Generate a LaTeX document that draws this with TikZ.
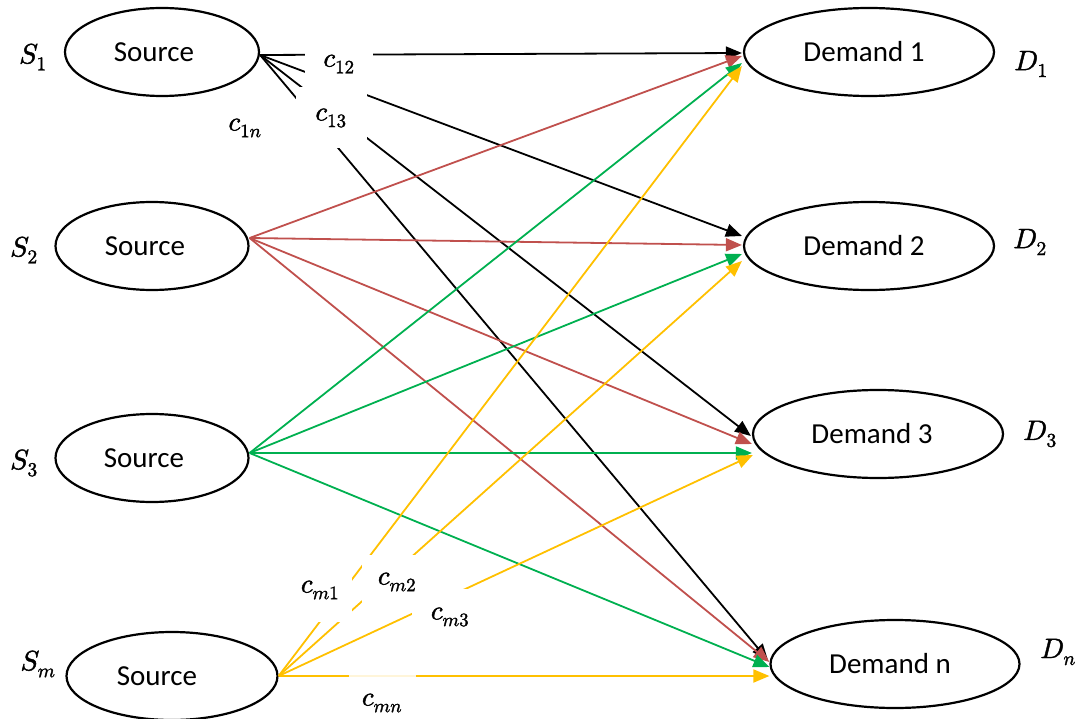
\documentclass[tikz,border=0pt]{standalone}
\usepackage{fontspec}
\usepackage{unicode-math}
\setmainfont{Carlito}
\setmathfont{Latin Modern Math}[FakeBold=1.6]
\usetikzlibrary{shapes.geometric,arrows.meta}
\definecolor{flowred}{RGB}{192,80,77}
\definecolor{flowgreen}{RGB}{0,176,80}
\definecolor{flowyellow}{RGB}{255,192,0}

\begin{document}
\begin{tikzpicture}[x=1pt,y=-1pt,
  place/.style={ellipse, draw, line width=2.2pt, inner sep=0pt,
    minimum height=88pt, font=\fontsize{29}{34}\selectfont},
  flow/.style={line width=1.8pt, -{Triangle[length=16pt,width=13pt]}},
  cost/.style={fill=white, inner sep=0pt, font=\fontsize{27}{31}\selectfont},
  tag/.style={inner sep=0pt, font=\fontsize{28}{32}\selectfont}]

\useasboundingbox (0,0) rectangle (1078,719);

% sources and demands
\node[place, minimum width=194pt] (s1) at (162,52)  {\hspace*{-16pt}Source};
\node[place, minimum width=193pt] (s2) at (152,246) {\hspace*{-14pt}Source};
\node[place, minimum width=193pt] (s3) at (152,458) {\hspace*{-16pt}Source};
\node[place, minimum width=211pt] (sm) at (172,676) {\hspace*{-30pt}Source};
\node[place, minimum width=250pt] (d1) at (869,52)  {\hspace*{-10pt}Demand 1};
\node[place, minimum width=250pt] (d2) at (869,246) {\hspace*{-10pt}Demand 2};
\node[place, minimum width=250pt] (d3) at (878,434) {\hspace*{-12pt}Demand 3};
\node[place, minimum width=249pt] (dn) at (895,664) {\hspace*{-10pt}Demand n};

% points where the flows leave each source
\coordinate (o1) at ([yshift=-3pt]s1.east);
\coordinate (o2) at ([yshift=8pt]s2.east);
\coordinate (o3) at ([yshift=5pt]s3.east);
\coordinate (om) at (sm.east);

% flows from source 1
\draw[flow, black] (o1) -- ([xshift=-1pt,yshift=-1pt]d1.west);
\draw[flow, black] (o1) -- ([xshift=-1pt,yshift=10pt]d2.west);
\draw[flow, black] (o1) -- ([xshift=-1pt,yshift=-2pt]d3.west);
\draw[flow, black] (o1) -- ([xshift=-1.5pt,yshift=4pt]dn.west);

% flows from source 2
\draw[flow, flowred] (o2) -- ([xshift=-1pt,yshift=-4pt]d1.west);
\draw[flow, flowred] (o2) -- ([xshift=-1pt,yshift=1pt]d2.west);
\draw[flow, flowred] (o2) -- ([yshift=-10pt]d3.west);
\draw[flow, flowred] (o2) -- ([yshift=2pt]dn.west);

% flows from source 3
\draw[flow, flowgreen] (o3) -- ([xshift=-1pt,yshift=-11pt]d1.west);
\draw[flow, flowgreen] (o3) -- ([xshift=-1pt,yshift=-8pt]d2.west);
\draw[flow, flowgreen] (o3) -- ([yshift=-19pt]d3.west);
\draw[flow, flowgreen] (o3) -- ([yshift=-3pt]dn.west);

% flows from source m
\draw[flow, flowyellow] (om) -- ([xshift=-1pt,yshift=-14pt]d1.west);
\draw[flow, flowyellow] (om) -- ([xshift=-1pt,yshift=-15pt]d2.west);
\draw[flow, flowyellow] (om) -- ([xshift=1pt,yshift=-21pt]d3.west);
\draw[flow, flowyellow] (om) -- ([yshift=-12pt]dn.west);

% cost labels on the flows
\node[cost, minimum width=68pt, minimum height=48pt] (c12) at (339,64)  {$c_{12}$};
\node[cost, minimum width=71pt, minimum height=61pt] (c13) at (331,118) {$c_{13}$};
\node[cost] (c1n) at (245,128) {$c_{1n}$};
\node[cost, minimum width=76pt, minimum height=56pt] (cm3) at (450,617) {$c_{m3}$};
\node[cost, minimum width=64pt, minimum height=64pt] (cm1) at (320,590) {$c_{m1}$};
\node[cost, minimum width=70pt, minimum height=55pt] (cm2) at (397,582) {$c_{m2}$};
\node[cost, minimum width=67pt, minimum height=65pt, fill opacity=0.85,
      text opacity=1] (cmn) at (382,703) {$c_{mn}$};

% supply and demand names
\node[tag] (ts1) at (33,57)   {$S_1$};
\node[tag] (ts2) at (24,250)  {$S_2$};
\node[tag] (ts3) at (24,463)  {$S_3$};
\node[tag] (tsm) at (38,664)  {$S_m$};
\node[tag] (td1) at (1031,64) {$D_1$};
\node[tag] (td2) at (1030,242) {$D_2$};
\node[tag] (td3) at (1040,434) {$D_3$};
\node[tag] (tdn) at (1058,652) {$D_n$};
\end{tikzpicture}
\end{document}
